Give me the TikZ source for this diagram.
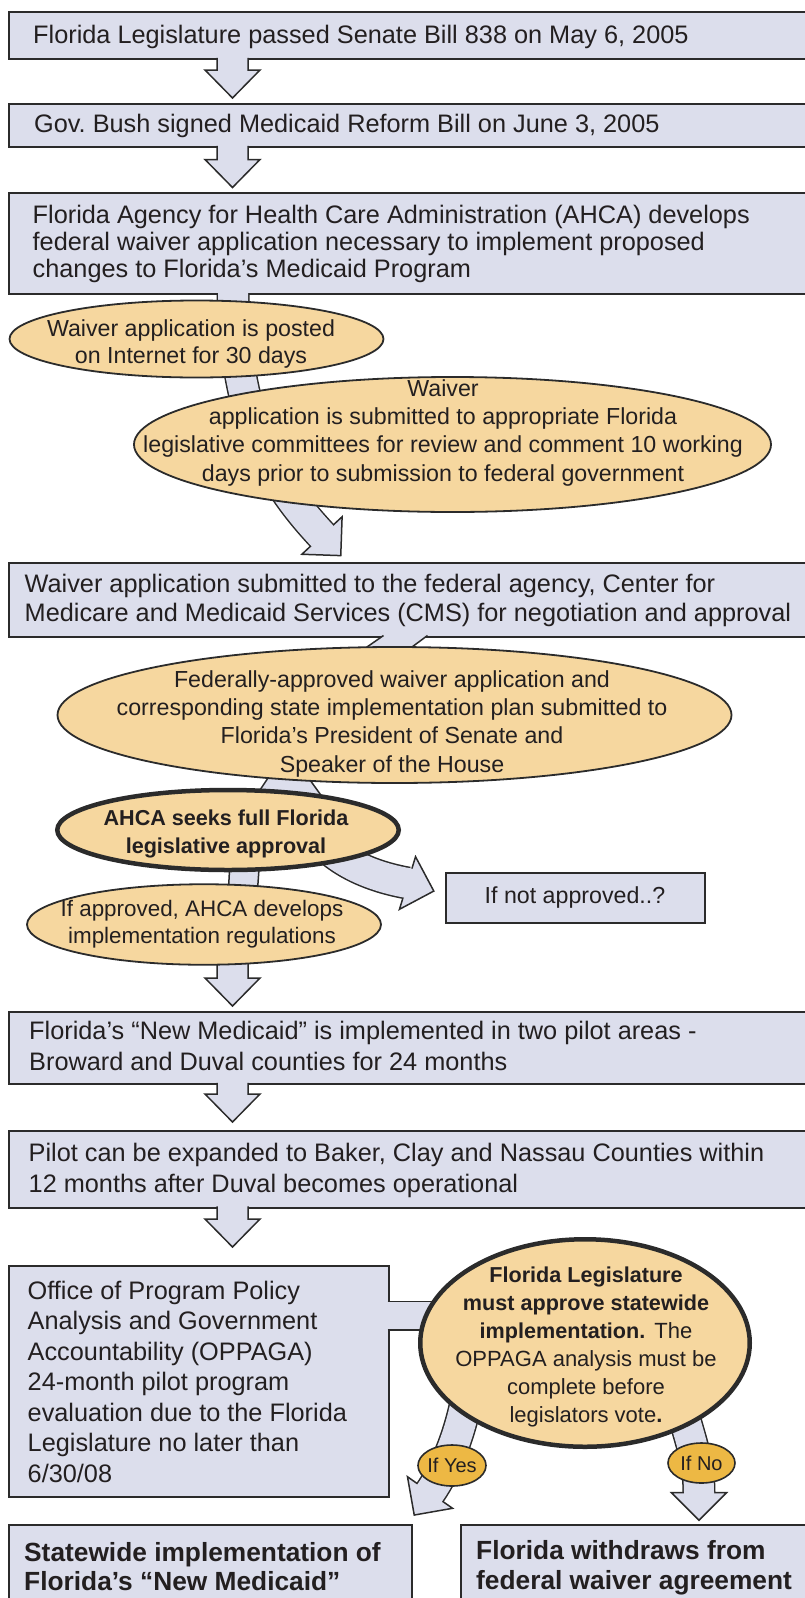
\documentclass[tikz,border=0pt]{standalone}
\usepackage{fontspec}
\setmainfont{Liberation Sans}
\usetikzlibrary{shapes.geometric,calc}
\definecolor{boxfill}{HTML}{DCDEEC}
\definecolor{ellfill}{HTML}{F6D79F}
\definecolor{goldfill}{HTML}{EDB844}
\definecolor{edge}{HTML}{2B2B2B}
\definecolor{ink}{HTML}{231F20}
\tikzset{
  panel/.style={draw=edge, fill=boxfill, line width=2pt, rectangle, inner sep=0pt, outer sep=0pt, anchor=north west},
  bubble/.style={draw=edge, fill=ellfill, line width=1.8pt, ellipse, inner sep=0pt, outer sep=0pt},
  keybubble/.style={bubble, line width=4.5pt},
  tagbubble/.style={draw=edge, fill=goldfill, line width=1.6pt, ellipse, inner sep=0pt, outer sep=0pt},
  flow/.style={draw=edge, fill=boxfill, line width=1.5pt, line join=miter},
  btxt/.style={font=\fontsize{25.3}{27}\selectfont, text=ink, inner sep=0pt, anchor=base west},
  etxt/.style={font=\fontsize{23.2}{28}\selectfont, text=ink, inner sep=0pt, anchor=base},
  smalletxt/.style={font=\fontsize{22.4}{27}\selectfont, text=ink, inner sep=0pt, anchor=base},
  ctxt/.style={font=\fontsize{22}{28}\selectfont, text=ink, inner sep=0pt, anchor=base},
  boldetxt/.style={font=\bfseries\fontsize{21.6}{28}\selectfont, text=ink, inner sep=0pt, anchor=base},
  bbold/.style={font=\bfseries\fontsize{26.3}{30}\selectfont, text=ink, inner sep=0pt, anchor=base west},
  tagtxt/.style={font=\fontsize{20}{24}\selectfont, text=ink, inner sep=0pt, anchor=base},
}
% straight block arrow from the bottom of box #1 towards the top of box #2, tip #3 pt above it
\newcommand\dnarrow[3]{%
  \filldraw[flow]
   ([xshift=208pt,yshift=1.2pt]#1.south west) --
   ([xshift=208pt,yshift=#3pt+28pt]#2.north west) --
   ([xshift=196pt,yshift=#3pt+28pt]#2.north west) --
   ([xshift=223.5pt,yshift=#3pt]#2.north west) --
   ([xshift=251pt,yshift=#3pt+28pt]#2.north west) --
   ([xshift=239pt,yshift=#3pt+28pt]#2.north west) --
   ([xshift=239pt,yshift=1.2pt]#1.south west);
}
% bent block arrow: #1 start of light part, #2 path ending at head base #3, head direction #4
\newcommand\bentarrow[4]{%
  \draw[draw=edge, line width=33pt] #2;
  \filldraw[flow] ($#3+({#4+90}:27.5)$) -- ($#3+(#4:27.5)$) -- ($#3+({#4-90}:27.5)$) -- cycle;
  \draw[draw=boxfill, line width=30pt] #1 -- #2 -- ($#3+(#4:1.8)$);
}
\begin{document}
\begin{tikzpicture}[x=1pt,y=1pt]
\useasboundingbox (0,0) rectangle (805,-1598);
\clip (0,0) rectangle (805,-1598);

% ---------- boxes ----------
\node[panel, minimum width=830pt, minimum height=47pt]   (b1) at (9,-12) {};
\node[panel, minimum width=830pt, minimum height=43pt]   (b2) at (9,-104) {};
\node[panel, minimum width=830pt, minimum height=101.5pt] (b3) at (9,-192.5) {};
\node[panel, minimum width=830pt, minimum height=74.5pt] (b4) at (9,-562.5) {};
\node[panel, minimum width=258.5pt, minimum height=50pt] (bn) at (446,-873) {};
\node[panel, minimum width=830pt, minimum height=72pt]   (b5) at (9,-1012) {};
\node[panel, minimum width=830pt, minimum height=76.5pt] (b6) at (9,-1131) {};
\node[panel, minimum width=379.5pt, minimum height=231pt] (b7) at (9,-1266) {};
\node[panel, minimum width=403pt, minimum height=120pt]  (b8) at (9,-1525) {};
\node[panel, minimum width=400pt, minimum height=120pt]  (b9) at (461,-1525) {};

% ---------- straight arrows ----------
\dnarrow{b1}{b2}{6}
\dnarrow{b2}{b3}{5}
\dnarrow{b5}{b6}{9}
\dnarrow{b6}{b7}{19}

% ---------- arrows behind ellipses ----------
% box 3 -> box 4 (behind both ellipses)
\bentarrow{([xshift=224pt,yshift=2.5pt]b3.south west)}
  {([xshift=224pt]b3.south west) .. controls (236,-420) and (270.8,-480.7) .. (322,-535.5)}
  {(322,-535.5)}{-47}
% box 4 -> AHCA
\filldraw[flow] ([xshift=374.5pt,yshift=1.5pt]b4.south west) -- (367,-647) -- (300,-730) -- (268,-778)
   -- (250,-805) -- (328,-805) -- (310,-780) -- (335,-730) -- (412,-647)
   -- ([xshift=418.5pt,yshift=1.5pt]b4.south west);
% AHCA -> If approved
\filldraw[flow] (230,-862) -- (228,-897) -- (257,-897) -- (259.5,-862) -- cycle;
% If approved -> box 5
\filldraw[flow]
   (217,-960) -- (217,-978) -- (205,-978) -- (232.5,-1006) -- (260,-978) -- (248,-978) -- (248,-960);
% AHCA -> If not approved
\bentarrow{(320,-840)}{(320,-840) .. controls (345,-868) and (383.6,-878.7) .. (407.5,-883)}{(407.5,-883)}{-17}
% box 7 -> decision circle
\fill[boxfill] ([xshift=-2.5pt,yshift=-35.5pt]b7.north east) rectangle (475,-1330);
\draw[edge, line width=1.5pt] ([xshift=-1pt,yshift=-35.5pt]b7.north east) -- (475,-1301.5);
\draw[edge, line width=1.5pt] ([xshift=-1pt,yshift=-64pt]b7.north east) -- (475,-1330);
% If Yes / If No arrows
\bentarrow{(468,-1390)}{(468,-1390) .. controls (462,-1430) and (445.5,-1470.4) .. (430,-1492.5)}{(430,-1492.5)}{-125}
\bentarrow{(678,-1395)}{(678,-1395) .. controls (690,-1440) and (699,-1460) .. (699,-1492.7)}{(699,-1492.7)}{-90}

% ---------- ellipses ----------
\node[bubble, minimum width=374pt, minimum height=77pt]  (e1) at (196.5,-339) {};
\node[bubble, minimum width=637pt, minimum height=135pt] (e2) at (452.5,-444.5) {};
\node[bubble, minimum width=674pt, minimum height=136pt] (e3) at (394.5,-715) {};
\node[keybubble, minimum width=341.5pt, minimum height=80pt] (e4) at (228,-830) {};
\node[bubble, minimum width=354pt, minimum height=80.5pt] (e5) at (204,-924.5) {};
\node[keybubble, minimum width=329.5pt, minimum height=207.5pt] (e6) at (585,-1343) {};
\node[tagbubble, minimum width=68pt, minimum height=41pt] (tyes) at (452,-1465.5) {};
\node[tagbubble, minimum width=67pt, minimum height=40pt] (tno) at (701.5,-1463) {};

% ---------- texts ----------
\node[btxt] (t1) at (33,-43.3) {Florida Legislature passed Senate Bill 838 on May 6, 2005};
\node[btxt] (t2) at (34,-132) {Gov.\ Bush signed Medicaid Reform Bill on June 3, 2005};
\foreach \s [count=\i] in {{Florida Agency for Health Care Administration (AHCA) develops},
  {federal waiver application necessary to implement proposed},
  {changes to Florida’s Medicaid Program}}
  \node[btxt] (t3-\i) at (32.5,{-223-27*(\i-1)}) {\s};
\foreach \s [count=\i] in {{Waiver application is posted},{on Internet for 30 days}}
  \node[etxt] (te1-\i) at (191,{-336-27.5*(\i-1)}) {\s};
\foreach \s [count=\i] in {{Waiver},{application is submitted to appropriate Florida},
  {legislative committees for review and comment 10 working},
  {days prior to submission to federal government}}
  \node[etxt] (te2-\i) at (443,{-396-28.4*(\i-1)}) {\s};
\foreach \s [count=\i] in {{Waiver application submitted to the federal agency, Center for},
  {Medicare and Medicaid Services (CMS) for negotiation and approval}}
  \node[btxt] (t4-\i) at (24.5,{-592.5-28.5*(\i-1)}) {\s};
\foreach \s [count=\i] in {{Federally-approved waiver application and},
  {corresponding state implementation plan submitted to},
  {Florida’s President of Senate and},{Speaker of the House}}
  \node[etxt] (te3-\i) at (392,{-687.5-28.2*(\i-1)}) {\s};
\foreach \s [count=\i] in {{AHCA seeks full Florida},{legislative approval}}
  \node[boldetxt] (te4-\i) at (226,{-825-28*(\i-1)}) {\s};
\node[etxt] (tn) at (575,-903) {If not approved..?};
\foreach \s [count=\i] in {{If approved, AHCA develops},{implementation regulations}}
  \node[smalletxt] (te5-\i) at (202,{-916-27.5*(\i-1)}) {\s};
\foreach \s [count=\i] in {{Florida’s “New Medicaid” is implemented in two pilot areas -},
  {Broward and Duval counties for 24 months}}
  \node[btxt] (t5-\i) at (29,{-1039-31*(\i-1)}) {\s};
\foreach \s [count=\i] in {{Pilot can be expanded to Baker, Clay and Nassau Counties within},
  {12 months after Duval becomes operational}}
  \node[btxt] (t6-\i) at (28.5,{-1161-31*(\i-1)}) {\s};
\foreach \s [count=\i] in {{Office of Program Policy},{Analysis and Government},
  {Accountability (OPPAGA)},{24-month pilot program},{evaluation due to the Florida},
  {Legislature no later than},{6/30/08}}
  \node[btxt] (t7-\i) at (27.5,{-1299-30.5*(\i-1)}) {\s};
\node[boldetxt] (tc1) at (586,-1282) {Florida Legislature};
\node[boldetxt] (tc2) at (586,-1310) {must approve statewide};
\node[ctxt] (tc3) at (586,-1338) {{\bfseries\fontsize{21.6}{28}\selectfont implementation.}\hspace{9pt}The};
\node[ctxt] (tc4) at (586,-1366) {OPPAGA analysis must be};
\node[ctxt] (tc5) at (586,-1394) {complete before};
\node[ctxt] (tc6) at (586,-1422) {legislators vote{\bfseries.}};
\node[tagtxt] (tty) at (452,-1472) {If Yes};
\node[tagtxt] (ttn) at (701.5,-1470) {If No};
\foreach \s [count=\i] in {{Statewide implementation of},{Florida’s “New Medicaid”}}
  \node[bbold] (t8-\i) at (24,{-1561-29.5*(\i-1)}) {\s};
\foreach \s [count=\i] in {{Florida withdraws from},{federal waiver agreement}}
  \node[bbold] (t9-\i) at (476,{-1559-30.5*(\i-1)}) {\s};
\end{tikzpicture}
\end{document}
